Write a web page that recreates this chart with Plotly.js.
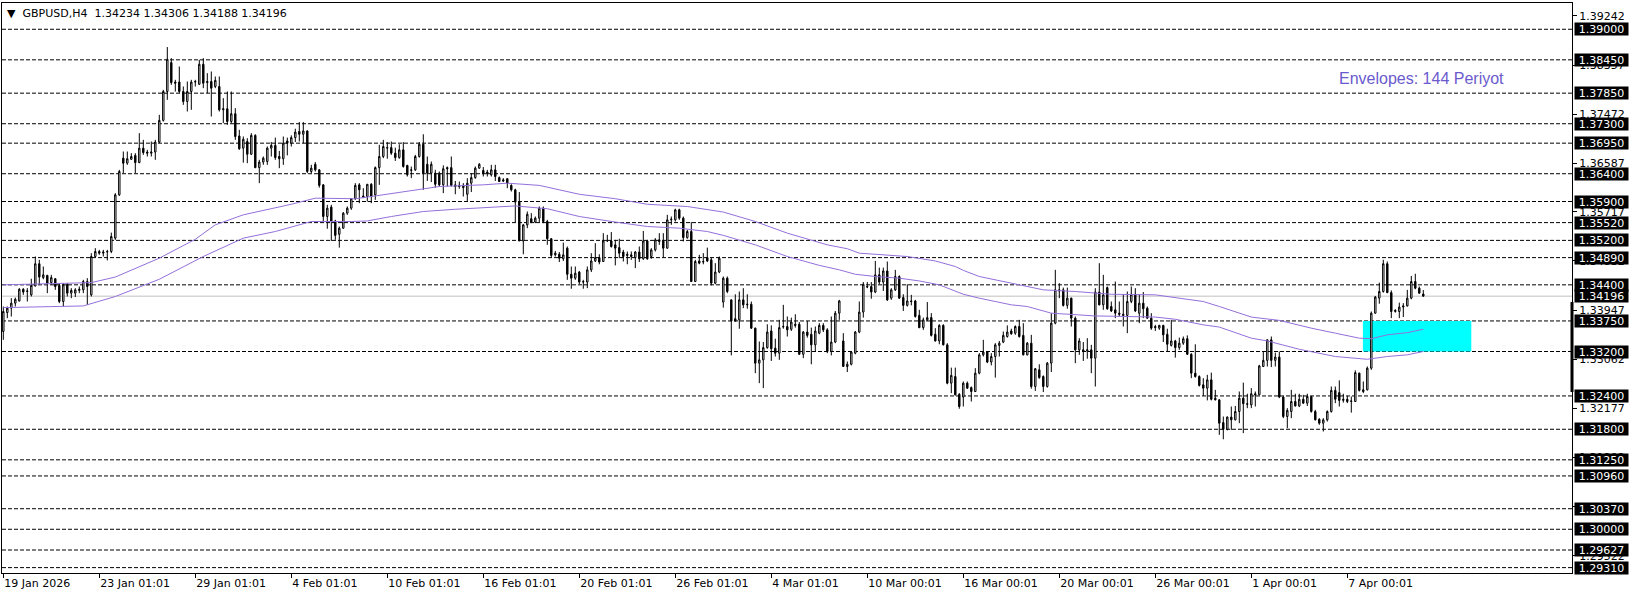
<!DOCTYPE html>
<html><head><meta charset="utf-8">
<script src="https://cdn.plot.ly/plotly-3.0.1.min.js"></script>
<style>html,body{margin:0;padding:0;background:#fff;overflow:hidden}#chart{width:1636px;height:597px}</style>
</head><body><div id="chart"></div>
<script>
const symbolTitle = "GBPUSD,H4";
const lastQuote = [1.34234, 1.34306, 1.34188, 1.34196];

const openP = [
1.3356,1.3390,1.3398,1.3407,1.3411,1.3432,1.3428,1.3422,1.3438,1.3478,
1.3453,1.3457,1.3444,1.3451,1.3439,1.3410,1.3441,1.3425,1.3425,1.3430,
1.3431,1.3446,1.3422,1.3491,1.3500,1.3497,1.3499,1.3500,1.3524,1.3602,
1.3668,1.3659,1.3666,1.3673,1.3660,1.3686,1.3679,1.3677,1.3679,1.3697,
1.3736,1.3788,1.3840,1.3805,1.3805,1.3788,1.3770,1.3788,1.3805,1.3801,
1.3837,1.3804,1.3806,1.3797,1.3797,1.3755,1.3757,1.3734,1.3748,1.3708,
1.3686,1.3698,1.3675,1.3709,1.3651,1.3661,1.3662,1.3686,1.3691,1.3671,
1.3667,1.3699,1.3695,1.3705,1.3716,1.3711,1.3717,1.3644,1.3657,1.3647,
1.3620,1.3563,1.3580,1.3555,1.3531,1.3542,1.3569,1.3578,1.3595,1.3620,
1.3600,1.3599,1.3621,1.3602,1.3651,1.3671,1.3686,1.3687,1.3677,1.3669,
1.3683,1.3655,1.3646,1.3647,1.3671,1.3693,1.3657,1.3641,1.3641,1.3641,
1.3620,1.3651,1.3651,1.3617,1.3619,1.3619,1.3603,1.3623,1.3633,1.3650,
1.3646,1.3643,1.3638,1.3647,1.3633,1.3629,1.3631,1.3619,1.3611,1.3589,
1.3519,1.3548,1.3559,1.3553,1.3560,1.3578,1.3554,1.3523,1.3494,1.3495,
1.3487,1.3506,1.3459,1.3452,1.3463,1.3446,1.3445,1.3467,1.3483,1.3489,
1.3482,1.3519,1.3519,1.3512,1.3507,1.3499,1.3495,1.3494,1.3489,1.3499,
1.3487,1.3519,1.3491,1.3503,1.3521,1.3519,1.3506,1.3557,1.3557,1.3575,
1.3560,1.3525,1.3536,1.3446,1.3483,1.3481,1.3489,1.3485,1.3443,1.3463,
1.3409,1.3452,1.3413,1.3379,1.3377,1.3413,1.3404,1.3405,1.3362,1.3299,
1.3305,1.3327,1.3357,1.3326,1.3317,1.3364,1.3365,1.3360,1.3369,1.3369,
1.3315,1.3355,1.3351,1.3332,1.3353,1.3367,1.3359,1.3320,1.3337,1.3389,
1.3339,1.3293,1.3297,1.3317,1.3355,1.3391,1.3437,1.3437,1.3427,1.3458,
1.3445,1.3465,1.3416,1.3431,1.3455,1.3417,1.3403,1.3411,1.3411,1.3385,
1.3363,1.3377,1.3381,1.3351,1.3339,1.3367,1.3332,1.3263,1.3275,1.3243,
1.3238,1.3263,1.3255,1.3248,1.3281,1.3314,1.3319,1.3301,1.3311,1.3331,
1.3337,1.3347,1.3357,1.3353,1.3365,1.3349,1.3314,1.3335,1.3257,1.3287,
1.3275,1.3257,1.3299,1.3371,1.3431,1.3431,1.3403,1.3416,1.3380,1.3323,
1.3323,1.3321,1.3323,1.3308,1.3427,1.3404,1.3435,1.3401,1.3395,1.3389,
1.3387,1.3385,1.3410,1.3423,1.3389,1.3407,1.3398,1.3380,1.3365,1.3362,
1.3367,1.3351,1.3331,1.3339,1.3327,1.3335,1.3343,1.3315,1.3281,1.3275,
1.3260,1.3254,1.3269,1.3236,1.3233,1.3192,1.3180,1.3202,1.3197,1.3212,
1.3236,1.3226,1.3224,1.3244,1.3242,1.3293,1.3304,1.3341,1.3304,1.3310,
1.3238,1.3203,1.3212,1.3230,1.3222,1.3234,1.3227,1.3239,1.3212,1.3198,
1.3191,1.3197,1.3212,1.3250,1.3246,1.3232,1.3234,1.3230,1.3230,1.3281,
1.3251,1.3251,1.3290,1.3389,1.3416,1.3428,1.3478,1.3426,1.3392,1.3392,
1.3400,1.3402,1.3416,1.3446,1.3434,1.34234];

const highP = [
1.3401,1.3401,1.3416,1.3417,1.3434,1.3434,1.3434,1.3451,1.3491,1.3485,
1.3473,1.3458,1.3458,1.3452,1.3443,1.3443,1.3443,1.3434,1.3434,1.3437,
1.3449,1.3452,1.3497,1.3506,1.3503,1.3503,1.3503,1.3534,1.3605,1.3647,
1.3680,1.3680,1.3677,1.3677,1.3713,1.3701,1.3683,1.3698,1.3701,1.3746,
1.3791,1.3868,1.3848,1.3809,1.3833,1.3797,1.3806,1.3809,1.3809,1.3845,
1.3848,1.3821,1.3824,1.3815,1.3815,1.3776,1.3788,1.3788,1.3758,1.3719,
1.3707,1.3704,1.3713,1.3711,1.3665,1.3671,1.3689,1.3697,1.3705,1.3681,
1.3707,1.3705,1.3709,1.3721,1.3733,1.3733,1.3718,1.3656,1.3661,1.3648,
1.3621,1.3584,1.3584,1.3557,1.3545,1.3571,1.3581,1.3596,1.3623,1.3623,
1.3614,1.3621,1.3623,1.3653,1.3692,1.3701,1.3697,1.3698,1.3687,1.3693,
1.3697,1.3656,1.3653,1.3674,1.3697,1.3711,1.3671,1.3662,1.3647,1.3644,
1.3655,1.3653,1.3671,1.3627,1.3626,1.3623,1.3632,1.3641,1.3653,1.3659,
1.3652,1.3647,1.3656,1.3656,1.3635,1.3632,1.3632,1.3621,1.3613,1.3607,
1.3549,1.3572,1.3569,1.3563,1.3581,1.3581,1.3557,1.3524,1.3501,1.3499,
1.3516,1.3509,1.3473,1.3473,1.3465,1.3449,1.3473,1.3497,1.3515,1.3495,
1.3533,1.3530,1.3535,1.3521,1.3523,1.3503,1.3500,1.3500,1.3501,1.3509,
1.3537,1.3521,1.3506,1.3524,1.3533,1.3533,1.3566,1.3563,1.3577,1.3577,
1.3563,1.3539,1.3553,1.3485,1.3494,1.3497,1.3507,1.3489,1.3479,1.3491,
1.3455,1.3455,1.3413,1.3423,1.3428,1.3434,1.3423,1.3410,1.3363,1.3338,
1.3337,1.3369,1.3367,1.3343,1.3377,1.3404,1.3383,1.3381,1.3387,1.3373,
1.3357,1.3375,1.3363,1.3365,1.3371,1.3371,1.3362,1.3383,1.3393,1.3413,
1.3353,1.3302,1.3321,1.3357,1.3410,1.3445,1.3445,1.3445,1.3483,1.3471,
1.3471,1.3482,1.3434,1.3467,1.3457,1.3423,1.3441,1.3422,1.3413,1.3395,
1.3381,1.3409,1.3389,1.3362,1.3369,1.3369,1.3335,1.3291,1.3291,1.3245,
1.3266,1.3266,1.3257,1.3290,1.3317,1.3341,1.3321,1.3317,1.3335,1.3339,
1.3356,1.3367,1.3361,1.3367,1.3377,1.3371,1.3337,1.3350,1.3290,1.3297,
1.3277,1.3301,1.3389,1.3467,1.3443,1.3435,1.3435,1.3417,1.3383,1.3344,
1.3337,1.3344,1.3332,1.3434,1.3479,1.3458,1.3437,1.3410,1.3446,1.3410,
1.3423,1.3428,1.3437,1.3434,1.3423,1.3427,1.3401,1.3389,1.3368,1.3368,
1.3368,1.3361,1.3377,1.3341,1.3345,1.3347,1.3349,1.3317,1.3333,1.3277,
1.3272,1.3278,1.3282,1.3251,1.3234,1.3203,1.3203,1.3221,1.3222,1.3248,
1.3264,1.3244,1.3254,1.3248,1.3296,1.3320,1.3342,1.3347,1.3318,1.3320,
1.3240,1.3218,1.3251,1.3244,1.3244,1.3242,1.3244,1.3240,1.3215,1.3200,
1.3200,1.3214,1.3257,1.3257,1.3268,1.3244,1.3240,1.3239,1.3286,1.3282,
1.3266,1.3293,1.3392,1.3420,1.3444,1.3485,1.3482,1.3430,1.3396,1.3408,
1.3407,1.3431,1.3456,1.3460,1.3437,1.34306];

const lowP = [
1.3341,1.3380,1.3383,1.3401,1.3410,1.3422,1.3410,1.3419,1.3437,1.3440,
1.3450,1.3425,1.3440,1.3431,1.3407,1.3401,1.3419,1.3416,1.3418,1.3425,
1.3425,1.3404,1.3419,1.3490,1.3494,1.3491,1.3484,1.3497,1.3521,1.3600,
1.3641,1.3656,1.3665,1.3641,1.3659,1.3674,1.3671,1.3671,1.3665,1.3695,
1.3734,1.3773,1.3800,1.3788,1.3785,1.3764,1.3752,1.3755,1.3797,1.3800,
1.3794,1.3785,1.3743,1.3794,1.3752,1.3731,1.3728,1.3731,1.3701,1.3683,
1.3660,1.3659,1.3674,1.3650,1.3623,1.3656,1.3656,1.3671,1.3665,1.3650,
1.3656,1.3673,1.3689,1.3697,1.3698,1.3695,1.3641,1.3641,1.3644,1.3615,
1.3555,1.3541,1.3519,1.3521,1.3507,1.3541,1.3566,1.3575,1.3593,1.3587,
1.3596,1.3590,1.3587,1.3593,1.3620,1.3668,1.3667,1.3674,1.3663,1.3667,
1.3651,1.3635,1.3632,1.3645,1.3669,1.3611,1.3627,1.3625,1.3615,1.3617,
1.3605,1.3617,1.3617,1.3603,1.3613,1.3599,1.3591,1.3607,1.3631,1.3649,
1.3635,1.3635,1.3635,1.3627,1.3625,1.3625,1.3614,1.3608,1.3553,1.3519,
1.3495,1.3542,1.3551,1.3551,1.3553,1.3551,1.3512,1.3489,1.3491,1.3481,
1.3483,1.3449,1.3433,1.3449,1.3441,1.3433,1.3434,1.3463,1.3481,1.3477,
1.3481,1.3517,1.3507,1.3475,1.3488,1.3482,1.3477,1.3485,1.3470,1.3481,
1.3485,1.3485,1.3487,1.3500,1.3512,1.3489,1.3505,1.3548,1.3554,1.3557,
1.3518,1.3523,1.3445,1.3445,1.3477,1.3477,1.3481,1.3439,1.3441,1.3461,
1.3399,1.3425,1.3313,1.3374,1.3361,1.3398,1.3397,1.3361,1.3281,1.3263,
1.3254,1.3325,1.3303,1.3311,1.3305,1.3361,1.3347,1.3357,1.3363,1.3314,
1.3308,1.3345,1.3297,1.3319,1.3351,1.3355,1.3317,1.3313,1.3335,1.3377,
1.3293,1.3283,1.3295,1.3315,1.3353,1.3381,1.3434,1.3415,1.3425,1.3441,
1.3429,1.3411,1.3413,1.3429,1.3415,1.3393,1.3401,1.3403,1.3381,1.3362,
1.3359,1.3375,1.3347,1.3338,1.3333,1.3331,1.3261,1.3245,1.3241,1.3217,
1.3221,1.3253,1.3230,1.3247,1.3279,1.3311,1.3299,1.3295,1.3273,1.3311,
1.3335,1.3345,1.3350,1.3350,1.3345,1.3313,1.3313,1.3253,1.3249,1.3271,
1.3247,1.3255,1.3283,1.3369,1.3416,1.3401,1.3397,1.3365,1.3299,1.3314,
1.3303,1.3307,1.3281,1.3257,1.3403,1.3395,1.3395,1.3391,1.3380,1.3383,
1.3365,1.3353,1.3407,1.3391,1.3371,1.3380,1.3379,1.3359,1.3357,1.3359,
1.3337,1.3320,1.3329,1.3309,1.3323,1.3332,1.3314,1.3272,1.3273,1.3257,
1.3240,1.3232,1.3232,1.3232,1.3170,1.3162,1.3178,1.3179,1.3196,1.3191,
1.3173,1.3218,1.3218,1.3221,1.3242,1.3292,1.3293,1.3292,1.3293,1.3236,
1.3200,1.3182,1.3200,1.3221,1.3220,1.3226,1.3222,1.3210,1.3196,1.3188,
1.3176,1.3194,1.3210,1.3227,1.3221,1.3228,1.3227,1.3210,1.3230,1.3248,
1.3245,1.3250,1.3287,1.3388,1.3406,1.3426,1.3425,1.3380,1.3390,1.3380,
1.3382,1.3401,1.3414,1.3432,1.3424,1.34188];

const closeP = [
1.3392,1.3398,1.3407,1.3414,1.3432,1.3427,1.3429,1.3439,1.3478,1.3454,
1.3458,1.3443,1.3453,1.3437,1.3410,1.3440,1.3425,1.3430,1.3431,1.3432,
1.3446,1.3437,1.3491,1.3500,1.3497,1.3499,1.3500,1.3527,1.3602,1.3644,
1.3659,1.3667,1.3671,1.3660,1.3686,1.3678,1.3677,1.3679,1.3697,1.3736,
1.3788,1.3846,1.3804,1.3803,1.3788,1.3770,1.3788,1.3805,1.3806,1.3837,
1.3803,1.3806,1.3794,1.3808,1.3755,1.3757,1.3734,1.3748,1.3707,1.3685,
1.3702,1.3675,1.3709,1.3651,1.3661,1.3668,1.3686,1.3691,1.3669,1.3667,
1.3695,1.3695,1.3705,1.3715,1.3711,1.3717,1.3644,1.3650,1.3647,1.3619,
1.3563,1.3578,1.3554,1.3529,1.3542,1.3569,1.3578,1.3595,1.3619,1.3611,
1.3598,1.3621,1.3599,1.3651,1.3671,1.3689,1.3687,1.3677,1.3669,1.3683,
1.3653,1.3638,1.3647,1.3671,1.3693,1.3641,1.3641,1.3657,1.3621,1.3620,
1.3649,1.3649,1.3619,1.3620,1.3617,1.3615,1.3623,1.3633,1.3650,1.3657,
1.3640,1.3640,1.3647,1.3635,1.3626,1.3627,1.3623,1.3611,1.3589,1.3519,
1.3548,1.3567,1.3553,1.3560,1.3578,1.3554,1.3523,1.3493,1.3497,1.3488,
1.3494,1.3459,1.3452,1.3461,1.3445,1.3445,1.3467,1.3483,1.3489,1.3481,
1.3519,1.3520,1.3509,1.3506,1.3497,1.3491,1.3493,1.3491,1.3499,1.3487,
1.3519,1.3487,1.3503,1.3521,1.3518,1.3506,1.3557,1.3558,1.3575,1.3560,
1.3525,1.3536,1.3446,1.3482,1.3479,1.3482,1.3483,1.3443,1.3463,1.3488,
1.3452,1.3428,1.3375,1.3375,1.3413,1.3404,1.3405,1.3362,1.3299,1.3305,
1.3327,1.3355,1.3325,1.3317,1.3363,1.3365,1.3359,1.3373,1.3367,1.3315,
1.3355,1.3349,1.3332,1.3357,1.3367,1.3359,1.3320,1.3337,1.3389,1.3411,
1.3293,1.3297,1.3319,1.3355,1.3391,1.3441,1.3436,1.3427,1.3458,1.3445,
1.3465,1.3413,1.3431,1.3455,1.3416,1.3403,1.3411,1.3410,1.3383,1.3363,
1.3377,1.3381,1.3349,1.3339,1.3367,1.3332,1.3263,1.3277,1.3242,1.3221,
1.3263,1.3254,1.3248,1.3281,1.3314,1.3319,1.3301,1.3311,1.3332,1.3335,
1.3349,1.3355,1.3352,1.3365,1.3347,1.3314,1.3335,1.3257,1.3289,1.3273,
1.3257,1.3299,1.3371,1.3431,1.3429,1.3403,1.3416,1.3380,1.3323,1.3339,
1.3321,1.3323,1.3308,1.3427,1.3404,1.3422,1.3397,1.3393,1.3389,1.3387,
1.3385,1.3410,1.3423,1.3393,1.3407,1.3397,1.3380,1.3362,1.3363,1.3367,
1.3350,1.3333,1.3339,1.3327,1.3335,1.3343,1.3315,1.3281,1.3275,1.3259,
1.3254,1.3269,1.3234,1.3233,1.3191,1.3180,1.3202,1.3197,1.3212,1.3236,
1.3226,1.3225,1.3244,1.3242,1.3294,1.3304,1.3341,1.3304,1.3310,1.3238,
1.3203,1.3214,1.3230,1.3222,1.3234,1.3227,1.3239,1.3212,1.3197,1.3191,
1.3197,1.3212,1.3250,1.3234,1.3232,1.3234,1.3230,1.3231,1.3282,1.3250,
1.3248,1.3290,1.3389,1.3418,1.3428,1.3478,1.3426,1.3392,1.3394,1.3400,
1.3402,1.3416,1.3446,1.3434,1.3425,1.34196];

const dateLabelBars = [0,24,48,72,96,120,144,168,192,216,240,264,288,312,336];
const dateLabels = ["19 Jan 2026","23 Jan 01:01","29 Jan 01:01","4 Feb 01:01","10 Feb 01:01",
  "16 Feb 01:01","20 Feb 01:01","26 Feb 01:01","4 Mar 01:01","10 Mar 00:01","16 Mar 00:01",
  "20 Mar 00:01","26 Mar 00:01","1 Apr 00:01","7 Apr 00:01"];

const axisTicks = [1.39242,1.38357,1.37472,1.36587,1.35717,1.34832,1.33947,1.33062,1.32177,1.31292,1.30407,1.29522];
const levelLines = [1.39000,1.38450,1.37850,1.37300,1.36950,1.36400,1.35900,1.35520,1.35200,1.34890,1.34400,
  1.33750,1.33200,1.32400,1.31800,1.31250,1.30960,1.30370,1.30000,1.29627,1.29310];
const currentPrice = 1.34196;

const envUpperBars = [0,22,28,39,48,53,60,72,78,83,88,93,101,109,120,126,134,144,153,161,171,180,188,196,206,211,214,221,226,233,238,240,244,252,260,268,277,288,293,300,304,312,319,327,333,339,342,346,351,355];
const envUpper = [1.3440,1.3444,1.3454,1.3488,1.3522,1.3548,1.3566,1.3585,1.3596,1.3595,1.3595,1.3600,1.3609,1.3617,1.3620,1.3623,1.3619,1.3603,1.3595,1.3585,1.3581,1.3571,1.3554,1.3533,1.3512,1.3505,1.3497,1.3494,1.3491,1.3483,1.3473,1.3466,1.3455,1.3443,1.3431,1.3428,1.3423,1.3422,1.3417,1.3410,1.3401,1.3382,1.3376,1.3362,1.3353,1.3344,1.3343,1.3350,1.3354,1.3360];
const envLowerBars = [0,20,28,39,50,60,68,77,87,91,97,105,113,120,128,136,144,153,161,169,176,180,188,196,204,209,213,218,224,229,234,240,244,252,256,262,268,273,281,288,293,298,300,304,312,316,324,333,341,346,351,355];
const envLower = [1.3399,1.3402,1.3419,1.3450,1.3491,1.3524,1.3536,1.3554,1.3554,1.3555,1.3563,1.3572,1.3576,1.3579,1.3582,1.3577,1.3563,1.3553,1.3545,1.3542,1.3536,1.3529,1.3512,1.3491,1.3475,1.3467,1.3459,1.3455,1.3452,1.3447,1.3440,1.3423,1.3416,1.3404,1.3401,1.3389,1.3387,1.3384,1.3383,1.3382,1.3378,1.3371,1.3368,1.3364,1.3344,1.3339,1.3324,1.3311,1.3306,1.3311,1.3314,1.3320];

const zoneBars = [339.9, 367];
const zonePrices = [1.3320, 1.3375];
const markerRange = [1.3247, 1.3409];
const envLabel = "Envelopes: 144 Periyot";

const bars = openP.map((_, i) => i);
const FONT = "DejaVu Sans, Verdana, sans-serif";
const ENV_COLOR = "#9370DB";

const traces = [
  {
    type: "candlestick", x: bars, open: openP, high: highP, low: lowP, close: closeP,
    increasing: {line: {color: "#000", width: 1}, fillcolor: "#fff"},
    decreasing: {line: {color: "#000", width: 1}, fillcolor: "#000"},
    whiskerwidth: 0, hoverinfo: "skip", showlegend: false
  },
  {type: "scatter", mode: "lines", x: envUpperBars, y: envUpper, line: {color: ENV_COLOR, width: 1}, hoverinfo: "skip", showlegend: false},
  {type: "scatter", mode: "lines", x: envLowerBars, y: envLower, line: {color: ENV_COLOR, width: 1}, hoverinfo: "skip", showlegend: false}
];

const shapes = [];
levelLines.forEach(v => shapes.push({type: "line", xref: "paper", x0: 0, x1: 1, yref: "y", y0: v, y1: v,
  line: {color: "#000", width: 1, dash: "4px,2px"}, layer: "below"}));
shapes.push({type: "line", xref: "paper", x0: 0, x1: 1, yref: "y", y0: currentPrice, y1: currentPrice,
  line: {color: "#c0c0c0", width: 1}, layer: "below"});
shapes.push({type: "rect", xref: "x", x0: zoneBars[0], x1: zoneBars[1], yref: "y", y0: zonePrices[0], y1: zonePrices[1],
  fillcolor: "#00FFFF", line: {width: 0}, layer: "below"});
shapes.push({type: "line", xref: "paper", x0: 1, x1: 1, yref: "y", y0: markerRange[0], y1: markerRange[1],
  line: {color: "#000", width: 3}});

const BOX_X = 1 + 2 / 1570;
const annotations = [];
levelLines.concat([currentPrice]).forEach(v => annotations.push({
  xref: "paper", x: BOX_X, xanchor: "left", yref: "y", y: v, yanchor: "middle",
  text: v.toFixed(5), showarrow: false, bgcolor: "#000", borderpad: 0, width: 53, height: 12,
  align: "center", font: {family: FONT, size: 11, color: "#fff"}
}));
annotations.push({
  xref: "paper", x: 0, xanchor: "left", xshift: 3, yref: "paper", y: 1, yanchor: "top", yshift: -2,
  text: "\u25BC\u00a0\u00a0" + symbolTitle + "\u00a0\u00a0" + lastQuote.map(v => v.toFixed(5)).join(" "),
  showarrow: false, font: {family: FONT, size: 11, color: "#000"}
});
annotations.push({
  xref: "paper", x: 0.958, xanchor: "right", yref: "paper", y: 0.8684, yanchor: "middle",
  text: envLabel, showarrow: false, font: {family: "Liberation Sans, Arial, sans-serif", size: 16, color: "#6A5ACD"}
});

const layout = {
  width: 1636, height: 597,
  margin: {l: 2, r: 64, t: 3, b: 24, pad: 0},
  paper_bgcolor: "#fff", plot_bgcolor: "#fff",
  showlegend: false, hovermode: false, dragmode: false, boxgap: 0.5,
  xaxis: {
    type: "linear", range: [-0.325, 392.175], showgrid: false, zeroline: false,
    showline: true, mirror: true, linecolor: "#000", linewidth: 1,
    ticks: "outside", ticklen: 4, tickcolor: "#000", tickwidth: 1,
    tickvals: dateLabelBars, ticktext: dateLabels, ticklabelposition: "outside right",
    tickfont: {family: FONT, size: 11, color: "#000"},
    rangeslider: {visible: false}, fixedrange: true
  },
  yaxis: {
    range: [1.29213, 1.39473], side: "right", showgrid: false, zeroline: false,
    showline: true, mirror: true, linecolor: "#000", linewidth: 1,
    ticks: "outside", ticklen: 4, tickcolor: "#000", tickwidth: 1,
    tickvals: axisTicks, ticktext: axisTicks.map(v => v.toFixed(5)),
    tickfont: {family: FONT, size: 11, color: "#000"}, fixedrange: true
  },
  shapes: shapes,
  annotations: annotations
};

Plotly.newPlot("chart", traces, layout, {staticPlot: true, displayModeBar: false});
</script></body></html>
